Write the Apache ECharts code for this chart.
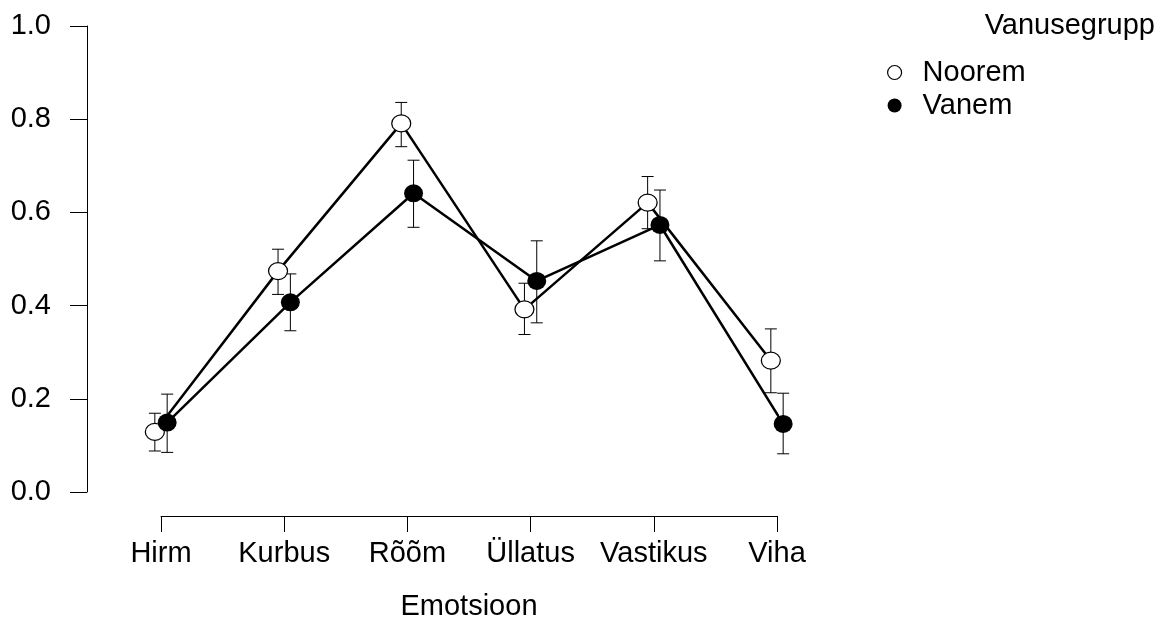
<!DOCTYPE html>
<html>
<head>
<meta charset="utf-8">
<script src="https://cdn.jsdelivr.net/npm/echarts@6/dist/echarts.min.js"></script>
<style>
  html, body { margin: 0; padding: 0; background: #fff; }
  #chart { width: 1160px; height: 620px; }
</style>
</head>
<body>
<div id="chart"></div>
<script>
const categories = ['Hirm', 'Kurbus', 'Rõõm', 'Üllatus', 'Vastikus', 'Viha']
const yTicks = [0, 0.2, 0.4, 0.6, 0.8, 1.0]

const noorem = [0.129, 0.474, 0.791, 0.392, 0.621, 0.282]
const nooremLo = [0.088, 0.424, 0.741, 0.338, 0.565, 0.213]
const nooremHi = [0.169, 0.521, 0.836, 0.448, 0.677, 0.350]

const vanem = [0.149, 0.407, 0.641, 0.453, 0.573, 0.146]
const vanemLo = [0.085, 0.346, 0.568, 0.363, 0.496, 0.082]
const vanemHi = [0.210, 0.468, 0.712, 0.539, 0.648, 0.212]

const FONT = "'Liberation Sans', Arial, sans-serif"
const FS = 29
const DODGE = 0.05

const chart = echarts.init(document.getElementById('chart'), null, { renderer: 'canvas' })

function points(vals, shift) {
  return vals.map((v, i) => [i + 1 + shift, v])
}
function bars(lo, hi, shift) {
  return lo.map((l, i) => [i + 1 + shift, l, hi[i]])
}

function renderBar(params, api) {
  const x = api.value(0)
  const lo = api.coord([x, api.value(1)])
  const hi = api.coord([x, api.value(2)])
  const w = 6
  const style = { stroke: '#000', lineWidth: 1 }
  return {
    type: 'group',
    children: [
      { type: 'line', shape: { x1: lo[0], y1: lo[1], x2: hi[0], y2: hi[1] }, style },
      { type: 'line', shape: { x1: lo[0] - w, y1: lo[1], x2: lo[0] + w, y2: lo[1] }, style },
      { type: 'line', shape: { x1: hi[0] - w, y1: hi[1], x2: hi[0] + w, y2: hi[1] }, style },
    ],
  }
}

chart.setOption({
  animation: false,
  backgroundColor: '#fff',
  textStyle: { fontFamily: FONT, color: '#000' },
  grid: { left: 161, top: 26, width: 616, height: 466, outerBoundsMode: 'none', containLabel: false },
  title: {
    text: 'Vanusegrupp',
    right: 5,
    top: 11,
    padding: 0,
    textStyle: { fontFamily: FONT, fontSize: FS, fontWeight: 'normal', color: '#000' },
  },
  legend: {
    orient: 'vertical',
    left: 887,
    top: 58,
    padding: 0,
    itemWidth: 14,
    itemHeight: 14,
    itemGap: 4,
    icon: 'circle',
    textStyle: { fontFamily: FONT, fontSize: FS, color: '#000', lineHeight: 29, padding: [0, 0, 0, 16] },
    data: [
      { name: 'Noorem', itemStyle: { color: '#fff', borderColor: '#000', borderWidth: 1.2 } },
      { name: 'Vanem', itemStyle: { color: '#000', borderColor: '#000', borderWidth: 0 } },
    ],
  },
  xAxis: {
    type: 'value',
    min: 1,
    max: 6,
    interval: 1,
    offset: 24,
    splitLine: { show: false },
    axisLine: { show: true, onZero: false, lineStyle: { color: '#000', width: 1 } },
    axisTick: { show: true, length: 16, lineStyle: { color: '#000', width: 1 } },
    axisLabel: {
      margin: 23,
      fontFamily: FONT,
      fontSize: FS,
      color: '#000',
      formatter: v => categories[Math.round(v) - 1] || '',
    },
    name: 'Emotsioon',
    nameLocation: 'middle',
    nameGap: 76,
    nameTextStyle: { fontFamily: FONT, fontSize: FS, color: '#000' },
  },
  yAxis: {
    type: 'value',
    min: yTicks[0],
    max: yTicks[yTicks.length - 1],
    interval: 0.2,
    offset: 74,
    splitLine: { show: false },
    axisLine: { show: true, lineStyle: { color: '#000', width: 1 } },
    axisTick: { show: true, length: 17, lineStyle: { color: '#000', width: 1 } },
    axisLabel: {
      margin: 36,
      fontFamily: FONT,
      fontSize: FS,
      color: '#000',
      formatter: v => v.toFixed(1),
    },
  },
  series: [
    {
      name: 'NooremErr',
      type: 'custom',
      clip: false,
      z: 1,
      renderItem: renderBar,
      encode: { x: 0, y: [1, 2] },
      data: bars(nooremLo, nooremHi, -DODGE),
    },
    {
      name: 'VanemErr',
      type: 'custom',
      clip: false,
      z: 1,
      renderItem: renderBar,
      encode: { x: 0, y: [1, 2] },
      data: bars(vanemLo, vanemHi, DODGE),
    },
    {
      name: 'Noorem',
      type: 'line',
      clip: false,
      z: 2,
      symbol: 'circle',
      symbolSize: [19, 17],
      showAllSymbol: true,
      lineStyle: { color: '#000', width: 2.5 },
      itemStyle: { color: '#fff', borderColor: '#000', borderWidth: 1.2 },
      data: points(noorem, -DODGE),
    },
    {
      name: 'Vanem',
      type: 'line',
      clip: false,
      z: 3,
      symbol: 'circle',
      symbolSize: [19, 18],
      showAllSymbol: true,
      lineStyle: { color: '#000', width: 2.5 },
      itemStyle: { color: '#000', borderColor: '#000', borderWidth: 0 },
      data: points(vanem, DODGE),
    },
  ],
})
</script>
</body>
</html>
